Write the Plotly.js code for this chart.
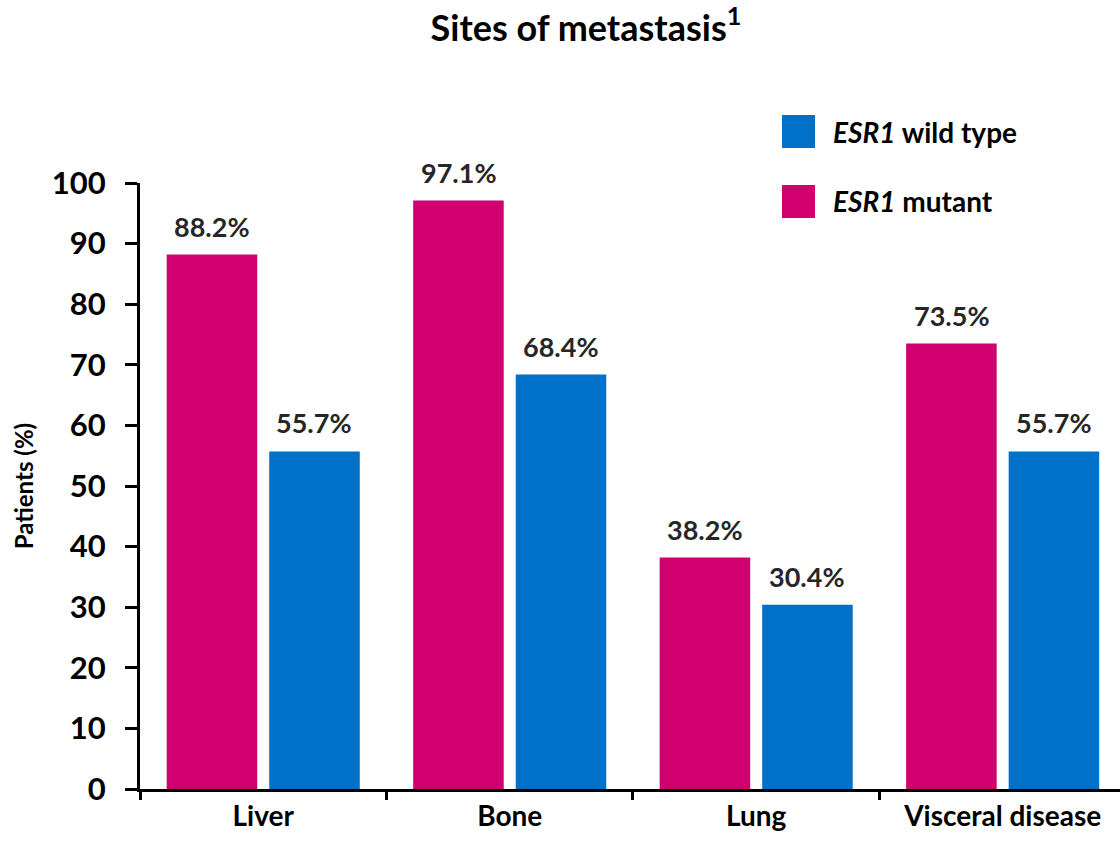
<!DOCTYPE html>
<html>
<head>
<meta charset="utf-8">
<script src="https://cdn.plot.ly/plotly-3.0.1.min.js"></script>
<style>html,body{margin:0;padding:0;background:#fff;}#chart{width:1120px;height:844px;}</style>
</head>
<body>
<div id="chart"></div>
<script>
const categories = ["Liver", "Bone", "Lung", "Visceral disease"];
const mutantValues = [88.2, 97.1, 38.2, 73.5];
const wildTypeValues = [55.7, 68.4, 30.4, 55.7];
const yTickValues = [0, 10, 20, 30, 40, 50, 60, 70, 80, 90, 100];
const seriesNames = ["<i>ESR1</i> mutant", "<i>ESR1</i> wild type"];

const FONT = "Lato, 'Open Sans', sans-serif";
const MAGENTA = "#D0006F";
const BLUE = "#0070C8";

const traces = [
  {type: "bar", name: seriesNames[0], x: categories, y: mutantValues,
   marker: {color: MAGENTA}, showlegend: false, hoverinfo: "x+y"},
  {type: "bar", name: seriesNames[1], x: categories, y: wildTypeValues,
   marker: {color: BLUE}, showlegend: false, hoverinfo: "x+y"}
];

// data labels placed above bars (built from the data arrays)
const labelAnnotations = [];
const offsets = [-51, 51];
[mutantValues, wildTypeValues].forEach((vals, si) => {
  vals.forEach((v, i) => {
    labelAnnotations.push({
      x: categories[i], y: v, xref: "x", yref: "y",
      text: "<b>" + v.toFixed(1) + "%</b>",
      showarrow: false, xanchor: "center", yanchor: "bottom",
      xshift: offsets[si], yshift: 10,
      font: {family: FONT, size: 27, color: "#262626"}
    });
  });
});

// legend: wild type first, then mutant
const legendItems = [
  {label: seriesNames[1], color: BLUE, yc: 131.5},
  {label: seriesNames[0], color: MAGENTA, yc: 201.5}
];
const shapes = [];
const legendAnn = [];
legendItems.forEach(it => {
  shapes.push({type: "rect", xref: "paper", yref: "paper",
    x0: (782 - 140) / 980, x1: (815 - 140) / 980,
    y0: (789 - (it.yc + 16.5)) / 606, y1: (789 - (it.yc - 16.5)) / 606,
    fillcolor: it.color, line: {width: 0}});
  legendAnn.push({xref: "paper", yref: "paper",
    x: (831 - 140) / 980, y: (789 - it.yc) / 606,
    xanchor: "left", yanchor: "middle", showarrow: false,
    text: "<b>" + it.label + "</b>",
    font: {family: FONT, size: 28, color: "#000"}});
});

const layout = {
  width: 1120, height: 844,
  margin: {l: 140, r: 0, t: 183, b: 55, pad: 0},
  paper_bgcolor: "#fff", plot_bgcolor: "#fff",
  font: {family: FONT, color: "#000"},
  title: {text: "<b>Sites of metastasis<sup>1</sup></b>",
    font: {family: FONT, size: 36, color: "#000"},
    xref: "paper", x: (586 - 140) / 980, xanchor: "center",
    yref: "container", y: 1 - 28 / 844, yanchor: "middle"},
  barmode: "group", bargap: 0.168, bargroupgap: 0.117,
  xaxis: {type: "category", range: [-0.5, 3.476],
    showline: true, linecolor: "#000", linewidth: 3,
    ticks: "outside", tickson: "boundaries", ticklen: 8, tickwidth: 3, tickcolor: "#000",
    tickfont: {family: FONT, size: 28, color: "#000", weight: "bold"},
    showgrid: false, zeroline: false, fixedrange: true},
  yaxis: {range: [0, 100], tickmode: "array", tickvals: yTickValues,
    ticktext: yTickValues.map(String),
    showline: true, linecolor: "#000", linewidth: 3,
    ticks: "outside", ticklen: 12, tickwidth: 3, tickcolor: "#000",
    ticklabelstandoff: 13,
    tickfont: {family: FONT, size: 31, color: "#000", weight: "bold"},
    title: {text: "<b>Patients (%)</b>", font: {family: FONT, size: 24, color: "#000"}, standoff: 12},
    showgrid: false, zeroline: false, fixedrange: true},
  shapes: shapes,
  annotations: labelAnnotations.concat(legendAnn)
};

Plotly.newPlot("chart", traces, layout, {displayModeBar: false, staticPlot: true});
</script>
</body>
</html>
